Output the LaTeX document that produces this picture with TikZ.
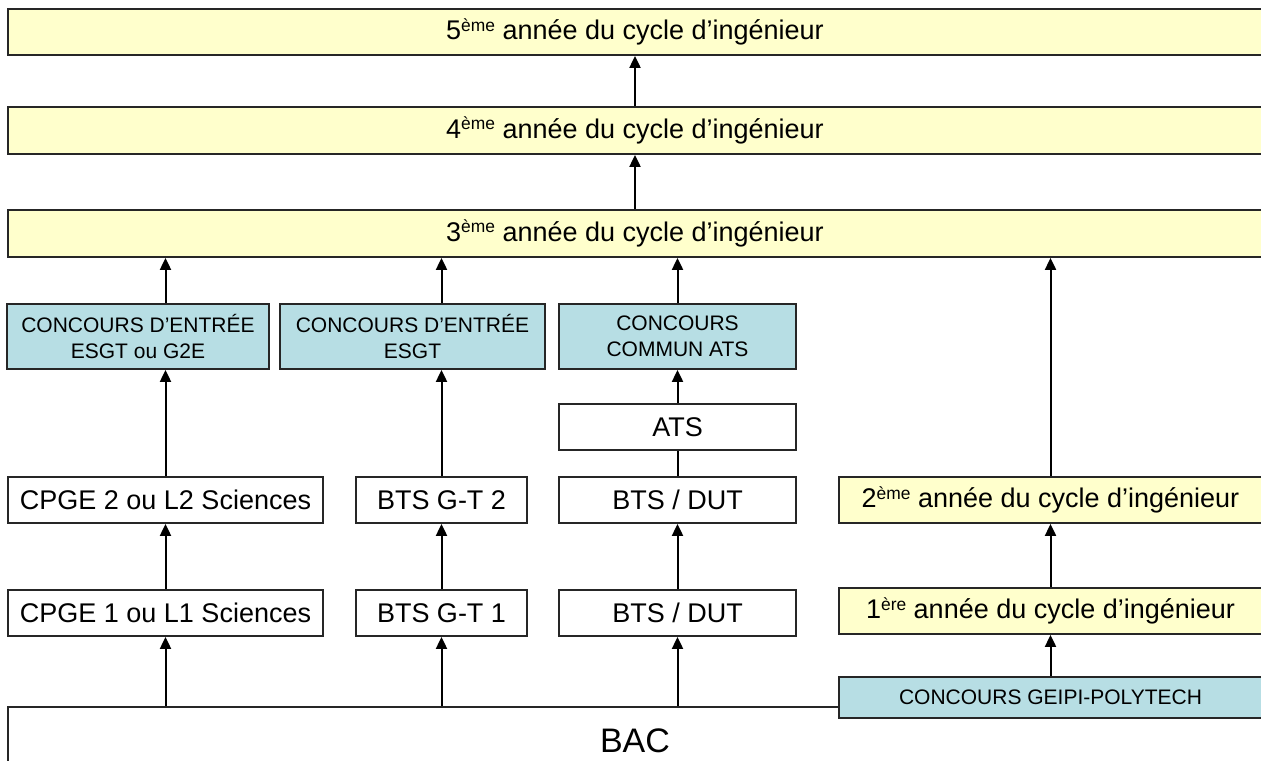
\documentclass[tikz,border=0pt]{standalone}
\usepackage{fontspec}
\setmainfont{Liberation Sans}
\usetikzlibrary{positioning}
\usetikzlibrary{arrows.meta}
\definecolor{anneefill}{RGB}{255,255,204}
\definecolor{concoursfill}{RGB}{183,222,228}
\newcommand{\expo}[1]{\raisebox{4.3pt}{\fontsize{8.7}{8.7}\selectfont #1}}
\tikzset{
box/.style={ % Sets the properties for each box
draw=black!85,
line width=0.9pt,
fill=white,
inner sep=0pt,
align=center},
boxsize/.style 2 args={minimum width=#1*0.5pt, minimum height=#2*0.5pt}, % sizes in px
cursus/.style={box, font=\fontsize{13.5}{16}\selectfont},
annee/.style={box, fill=anneefill, font=\fontsize{13.5}{16}\selectfont},
concours/.style={box, fill=concoursfill, font=\fontsize{10.5}{13}\selectfont},
every edge/.style={ % Sets the properties for each connector
draw,
-{Triangle[length=6pt, width=5.5pt]}, % filled arrow heads
line width=1pt}}

\begin{document}
\begin{tikzpicture}[x=0.5pt, y=-0.5pt]
\useasboundingbox (0,0) rectangle (1261,760);
% cycle d'ingenieur
\node[annee, boxsize={1254}{46}] (y5) at (635,32) {5\expo{ème} année du cycle d’ingénieur};
\node[annee, boxsize={1254}{47}] (y4) at (635,130.5) {4\expo{ème} année du cycle d’ingénieur};
\node[annee, boxsize={1254}{47}] (y3) at (635,233.5) {3\expo{ème} année du cycle d’ingénieur};
% concours
\node[concours, boxsize={262}{65}] (concA) at (138,336.5) {CONCOURS D’ENTRÉE\\ESGT ou G2E};
\node[concours, boxsize={265}{65}] (concB) at (412.5,336.5) {CONCOURS D’ENTRÉE\\ESGT};
\node[concours, boxsize={237}{65}] (concC) at (677.5,336.5) {CONCOURS\\COMMUN ATS};
\node[cursus, boxsize={237}{46}] (ats) at (677.5,427) {ATS};
% deuxieme annee
\node[cursus, boxsize={315}{46}] (cpgeB) at (165.5,500) {CPGE 2 ou L2 Sciences};
\node[cursus, boxsize={171}{46}] (btsB) at (441.5,500) {BTS G-T 2};
\node[cursus, boxsize={237}{46}] (dutB) at (677.5,500) {BTS / DUT};
\node[annee, boxsize={423}{46}] (ingB) at (1050.5,500) {2\expo{ème} année du cycle d’ingénieur};
% premiere annee
\node[cursus, boxsize={315}{46}] (cpgeA) at (165.5,613) {CPGE 1 ou L1 Sciences};
\node[cursus, boxsize={171}{46}] (btsA) at (441.5,613) {BTS G-T 1};
\node[cursus, boxsize={237}{46}] (dutA) at (677.5,613) {BTS / DUT};
\node[annee, boxsize={423}{46}] (ingA) at (1050.5,611) {1\expo{ère} année du cycle d’ingénieur};
% bac
\node[cursus, font=\fontsize{17}{20}\selectfont, boxsize={1254}{68}] (bac) at (635,741) {BAC};
\node[concours, boxsize={423}{41}] (geipi) at (1050.5,697.5) {CONCOURS GEIPI-POLYTECH};

\draw (cpgeA |- bac.north) edge (cpgeA);
\draw (btsA |- bac.north) edge (btsA);
\draw (dutA |- bac.north) edge (dutA);
\draw (geipi) edge (ingA);
\draw (cpgeA) edge (cpgeB);
\draw (btsA) edge (btsB);
\draw (dutA) edge (dutB);
\draw (ingA) edge (ingB);
\draw (cpgeB) edge (cpgeB |- concA.south);
\draw (btsB) edge (btsB |- concB.south);
\draw (dutB) edge[-] (ats);
\draw (ats) edge (concC);
\draw (cpgeB |- concA.north) edge (cpgeB |- y3.south);
\draw (btsB |- concB.north) edge (btsB |- y3.south);
\draw (concC) edge (concC |- y3.south);
\draw (ingB) edge (ingB |- y3.south);
\draw (y3) edge (y4);
\draw (y4) edge (y5);
\end{tikzpicture}
\end{document}
